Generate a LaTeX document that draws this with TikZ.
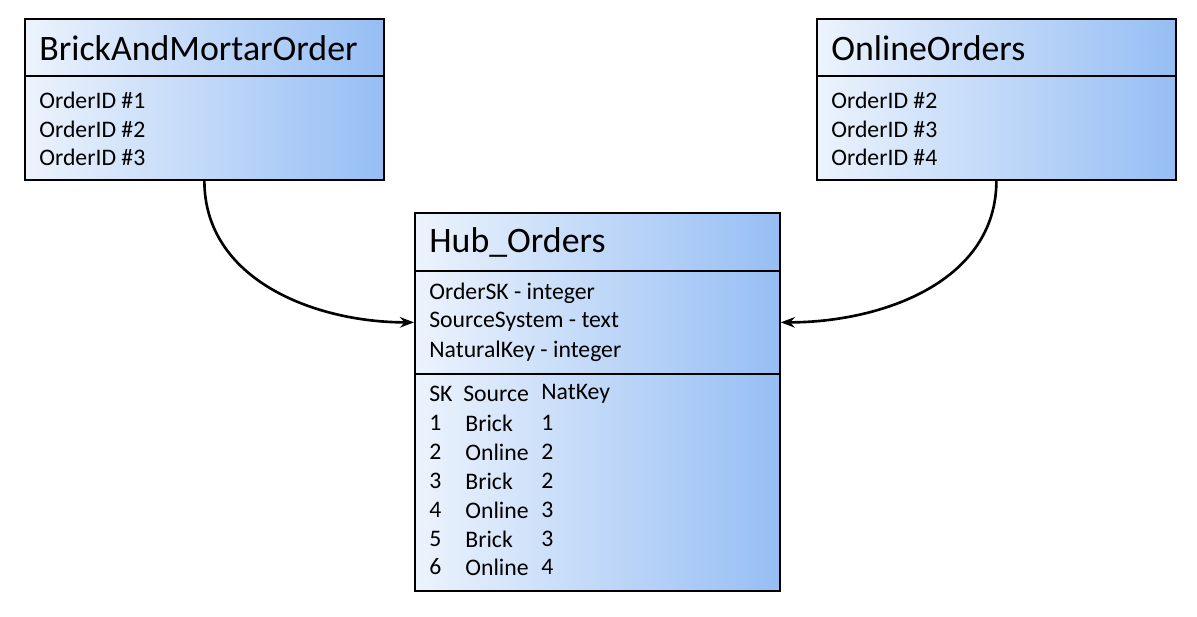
\documentclass[tikz,border=0pt]{standalone}
\usepackage{fontspec}
\setmainfont{Carlito}
\usetikzlibrary{arrows.meta, positioning}
\definecolor{boxlight}{RGB}{236,243,252}
\definecolor{boxdark}{RGB}{150,190,244}
\tikzset{
  section/.style={rectangle, draw=black, line width=1pt, anchor=north west, inner sep=0pt,
    left color=boxlight, right color=boxdark},
  title/.style={anchor=west, inner sep=0pt, font=\fontsize{20.4}{24}\selectfont},
  entry/.style={anchor=west, inner sep=0pt, font=\fontsize{13.5}{16}\selectfont},
  link/.style={line width=1.5pt, -{Stealth[length=8pt,width=6pt]}}
}
\begin{document}
\begin{tikzpicture}[x=0.02cm, y=-0.02cm]
  \useasboundingbox (0,0) rectangle (1197,617);

  % Source tables
  \node (bricktitle) [section, minimum width=359*0.02cm, minimum height=57*0.02cm] at (24,18) {};
  \node (brickbody) [section, minimum width=359*0.02cm, minimum height=104*0.02cm] at (24,75) {};
  \node (onlinetitle) [section, minimum width=359*0.02cm, minimum height=57*0.02cm] at (816,18) {};
  \node (onlinebody) [section, minimum width=359*0.02cm, minimum height=104*0.02cm] at (816,75) {};
  \node (brickname) [title] at (39,48) {BrickAndMortarOrder};
  \node (onlinename) [title] at (831,48) {OnlineOrders};
  \foreach \n/\y in {1/100,2/129,3/157}
    \node (brick\n) [entry] at (39,\y) {OrderID \#\n};
  \foreach \n/\y in {2/100,3/129,4/157}
    \node (online\n) [entry] at (831,\y) {OrderID \#\n};

  % Hub
  \node (hubtitle) [section, minimum width=365*0.02cm, minimum height=58*0.02cm] at (414,212) {};
  \node (hubfields) [section, minimum width=365*0.02cm, minimum height=103*0.02cm] at (414,270) {};
  \node (hubrows) [section, minimum width=365*0.02cm, minimum height=217*0.02cm] at (414,373) {};
  \node (hubname) [title] at (429,242) {Hub\_Orders};
  \node (field1) [entry] at (429,293) {OrderSK - integer};
  \node (field2) [entry] at (429,322) {SourceSystem - text};
  \node (field3) [entry] at (429,351) {NaturalKey - integer};
  \node (head1) [entry] at (429,394) {SK};
  \node (head2) [entry] at (463,394) {Source};
  \node (head3) [entry] at (541,394) {NatKey};
  \foreach \sk/\src/\nk/\y in {1/Brick/1/423,2/Online/2/452,3/Brick/2/481,4/Online/3/510,5/Brick/3/539,6/Online/4/567} {
    \node (sk\sk) [entry] at (429,\y) {\sk};
    \node (src\sk) [entry] at (465,\y) {\src};
    \node (nk\sk) [entry] at (541,\y) {\nk};
  }

  % Links
  \draw [link] (brickbody.south) to[out=-90, in=180] (hubfields.west);
  \draw [link] (onlinebody.south) to[out=-90, in=0] (hubfields.east);
\end{tikzpicture}
\end{document}
